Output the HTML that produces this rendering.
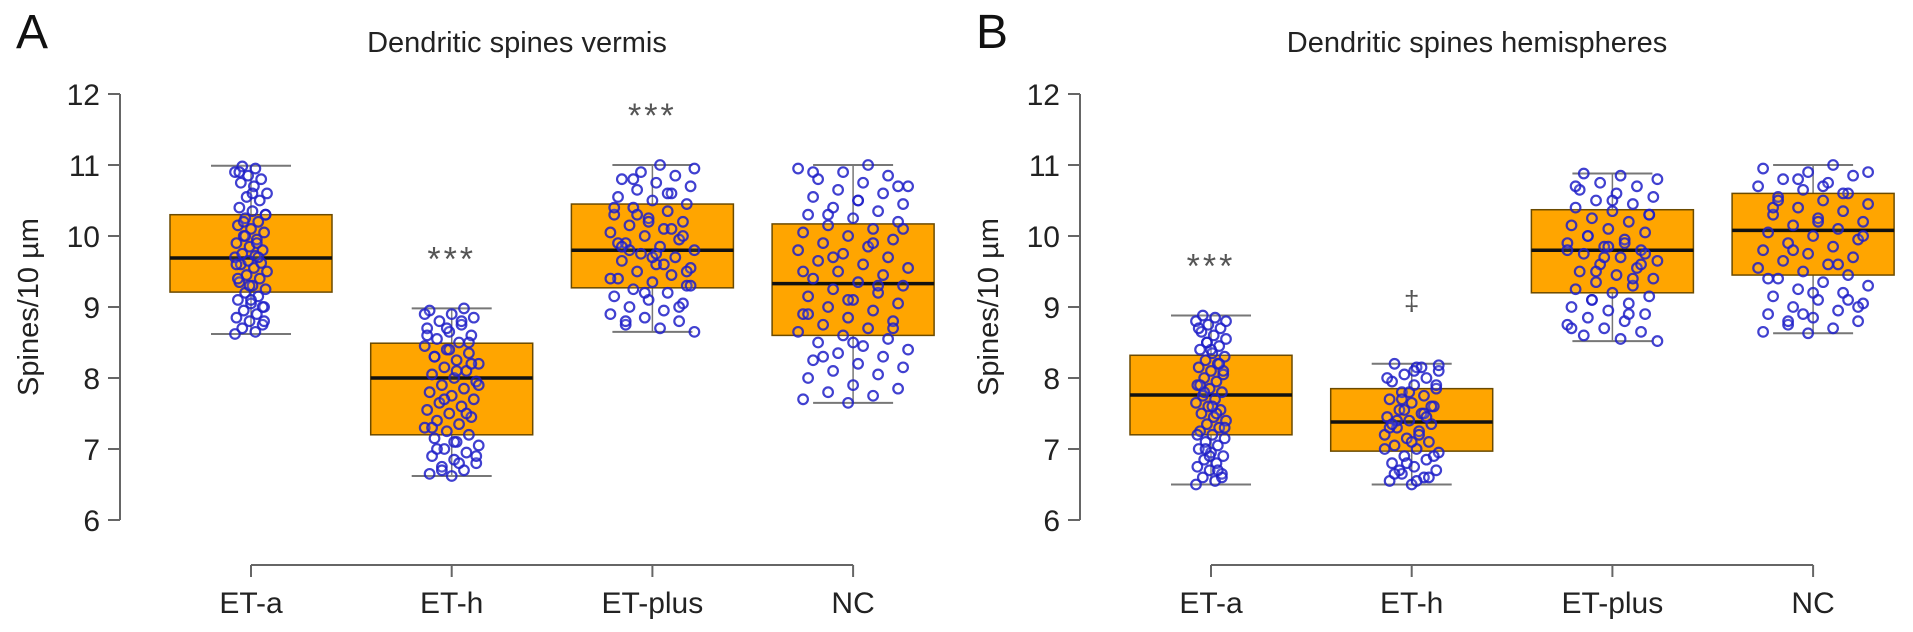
<!DOCTYPE html>
<html><head><meta charset="utf-8">
<style>
html,body{margin:0;padding:0;background:#fff;}
svg{display:block;font-family:"Liberation Sans",Arial,sans-serif;}
</style></head>
<body>
<svg id="chart" width="1913" height="632" viewBox="0 0 1913 632"></svg>
<script>
// ---- data ----
const categories = ["ET-a","ET-h","ET-plus","NC"];
const yTicks = [6,7,8,9,10,11,12];
const titleA = "Dendritic spines vermis";
const titleB = "Dendritic spines hemispheres";
// panel A box stats
const aLow = [8.62, 6.62, 8.65, 7.65];
const aQ1 = [9.21, 7.20, 9.27, 8.60];
const aMed = [9.69, 8.00, 9.80, 9.33];
const aQ3 = [10.30, 8.49, 10.45, 10.17];
const aHigh = [10.99, 8.98, 11.00, 11.00];
const aMarks = ["", "***", "***", ""];
// panel B box stats
const bLow = [6.50, 6.50, 8.52, 8.63];
const bQ1 = [7.20, 6.97, 9.20, 9.45];
const bMed = [7.76, 7.38, 9.80, 10.08];
const bQ3 = [8.32, 7.85, 10.37, 10.60];
const bHigh = [8.88, 8.20, 10.88, 11.00];
const bMarks = ["***", "‡", "", ""];
// jittered observations (estimated)
const aPtsETa = [8.62,8.65,8.7,8.75,8.8,8.85,8.9,8.95,9.0,9.05,9.1,9.15,9.2,9.25,9.3,9.35,9.4,9.45,9.5,9.55,9.6,9.62,9.65,9.7,9.72,9.75,9.8,9.85,9.9,9.95,10.0,10.05,10.1,10.15,10.2,10.25,10.3,10.35,10.4,10.5,10.55,10.6,10.7,10.75,10.8,10.85,10.9,10.95,10.98,9.0,9.3,9.6,9.9,10.2,8.8,9.1,9.4,9.7,10.0,10.3,10.6,10.9];
const aPtsETh = [6.62,6.65,6.7,6.75,6.8,6.85,6.9,6.95,7.0,7.05,7.1,7.15,7.2,7.25,7.3,7.35,7.4,7.45,7.5,7.55,7.6,7.65,7.7,7.75,7.8,7.85,7.9,7.95,8.0,8.05,8.1,8.15,8.2,8.25,8.3,8.35,8.4,8.45,8.5,8.55,8.6,8.65,8.7,8.75,8.8,8.85,8.9,8.95,8.98,6.7,6.9,7.1,7.3,7.5,7.7,7.9,8.1,8.3,8.5,8.7,8.9,6.8,7.0,8.2,8.4,8.6,8.8];
const aPtsETplus = [8.65,8.7,8.75,8.8,8.85,8.9,8.95,9.0,9.05,9.1,9.15,9.2,9.25,9.3,9.35,9.4,9.45,9.5,9.55,9.6,9.65,9.7,9.75,9.8,9.85,9.9,9.95,10.0,10.05,10.1,10.15,10.2,10.25,10.3,10.35,10.4,10.45,10.5,10.55,10.6,10.65,10.7,10.75,10.8,10.85,10.9,10.95,11.0,8.8,9.0,9.2,9.4,9.6,9.8,10.0,10.2,10.4,10.6,10.8,9.5,9.7,9.9,10.1,10.3,9.3,9.75,9.85];
const aPtsNC = [7.65,7.7,7.75,7.8,7.85,7.9,8.0,8.05,8.1,8.15,8.2,8.25,8.3,8.35,8.4,8.45,8.5,8.55,8.6,8.65,8.7,8.75,8.8,8.85,8.9,8.95,9.0,9.05,9.1,9.15,9.2,9.25,9.3,9.35,9.4,9.45,9.5,9.55,9.6,9.65,9.7,9.75,9.8,9.85,9.9,9.95,10.0,10.05,10.1,10.15,10.2,10.25,10.3,10.35,10.4,10.45,10.5,10.55,10.6,10.65,10.7,10.75,10.8,10.85,10.9,10.95,11.0,8.3,8.7,9.1,9.5,9.9,10.3,10.7,8.5,8.9,9.3,9.7,10.1,10.5,10.9];
const bPtsETa = [6.5,6.55,6.6,6.65,6.7,6.75,6.8,6.85,6.9,6.95,7.0,7.05,7.1,7.15,7.2,7.25,7.3,7.35,7.4,7.45,7.5,7.55,7.6,7.65,7.7,7.75,7.8,7.85,7.9,7.95,8.0,8.05,8.1,8.15,8.2,8.25,8.3,8.35,8.4,8.45,8.5,8.55,8.6,8.65,8.7,8.75,8.8,8.85,8.88,6.6,6.9,7.2,7.5,7.8,8.1,8.4,8.7,6.7,7.0,7.3,7.6,7.9,8.2,8.5,8.8];
const bPtsETh = [6.5,6.55,6.6,6.65,6.7,6.75,6.8,6.85,6.9,6.95,7.0,7.05,7.1,7.15,7.2,7.25,7.3,7.35,7.4,7.45,7.5,7.55,7.6,7.65,7.7,7.75,7.8,7.85,7.9,7.95,8.0,8.05,8.1,8.15,8.2,6.6,6.8,7.0,7.2,7.4,7.6,7.8,8.0,8.15,6.7,6.9,7.1,7.3,7.5,7.7,7.9,8.1,7.35,7.45,7.55,8.18,6.55,6.65];
const bPtsETplus = [8.52,8.55,8.6,8.65,8.7,8.75,8.8,8.85,8.9,8.95,9.0,9.05,9.1,9.15,9.2,9.25,9.3,9.35,9.4,9.45,9.5,9.55,9.6,9.65,9.7,9.75,9.8,9.85,9.9,9.95,10.0,10.05,10.1,10.15,10.2,10.25,10.3,10.35,10.4,10.45,10.5,10.55,10.6,10.65,10.7,10.75,10.8,10.85,10.88,9.6,9.7,9.8,9.9,10.0,9.75,9.85,8.7,8.9,9.1,10.3,10.5,10.7,9.4,9.5];
const bPtsNC = [8.63,8.65,8.7,8.75,8.8,8.85,8.9,8.95,9.0,9.05,9.1,9.15,9.2,9.25,9.3,9.35,9.4,9.45,9.5,9.55,9.6,9.65,9.7,9.75,9.8,9.85,9.9,9.95,10.0,10.05,10.1,10.15,10.2,10.25,10.3,10.35,10.4,10.45,10.5,10.55,10.6,10.65,10.7,10.75,10.8,10.85,10.9,10.95,11.0,8.8,9.0,9.2,9.4,9.6,9.8,10.0,10.2,10.4,10.6,10.8,10.9,10.7,10.5,9.1,8.9];
const aPoints = [aPtsETa, aPtsETh, aPtsETplus, aPtsNC];
const bPoints = [bPtsETa, bPtsETh, bPtsETplus, bPtsNC];

// ---- drawing ----
const NS = "http://www.w3.org/2000/svg";
const svg = document.getElementById("chart");
function mk(tag, attrs, parent, text){
  const e = document.createElementNS(NS, tag);
  for (const k in attrs) e.setAttribute(k, attrs[k]);
  if (text !== undefined) e.textContent = text;
  (parent || svg).appendChild(e);
  return e;
}
const jitterW = [16, 27, 42, 55];
const jitterWB = [15, 27, 45, 55];

function drawPanel(ox, letter, title, low, q1, med, q3, high, marks, points, jw, key){
  const g = mk("g", {});
  
  
  const yTop = 94, yBot = 520, axisX = ox + 120, x0 = ox + 251, step = 200.7, xAxisY = 565;
  const ys = v => yBot - (v - 6) * (yBot - yTop) / 6;
  const xs = i => x0 + i * step;

  const lt = mk("text", {x: ox + 16, y: 48, "font-size": 48, fill: "#111"}, g, letter);
  
  
  const tt = mk("text", {x: ox + 517, y: 52, "font-size": 29, fill: "#222", "text-anchor": "middle"}, g, title);
  
  

  const ya = mk("line", {x1: axisX, y1: ys(12), x2: axisX, y2: ys(6), stroke: "#666", "stroke-width": 2}, g);
  
  
  yTicks.forEach(t => {
    const tk = mk("line", {x1: axisX - 12, y1: ys(t), x2: axisX, y2: ys(t), stroke: "#666", "stroke-width": 2}, g);
    
    
    const tl = mk("text", {x: axisX - 20, y: ys(t) + 11, "font-size": 30, fill: "#222", "text-anchor": "end"}, g, String(t));
    
    
  });
  const yl = mk("text", {x: 0, y: 0, "font-size": 29, fill: "#222", "text-anchor": "middle", transform: `translate(${ox + 38},${(yTop + yBot) / 2}) rotate(-90)`}, g, "Spines/10 µm");
  
  

  const xa = mk("line", {x1: xs(0), y1: xAxisY, x2: xs(categories.length - 1), y2: xAxisY, stroke: "#666", "stroke-width": 2}, g);
  
  
  categories.forEach((c, i) => {
    const tk = mk("line", {x1: xs(i), y1: xAxisY, x2: xs(i), y2: xAxisY + 12, stroke: "#666", "stroke-width": 2}, g);
    
    
    const tl = mk("text", {x: xs(i), y: 613, "font-size": 30, fill: "#222", "text-anchor": "middle"}, g, c);
    
    
  });

  categories.forEach((c, i) => {
    const cx = xs(i), hw = 81;
    const bg = mk("g", {}, g);
    
    
    mk("line", {x1: cx, y1: ys(high[i]), x2: cx, y2: ys(low[i]), stroke: "#777", "stroke-width": 1.5}, bg);
    mk("line", {x1: cx - 40, y1: ys(high[i]), x2: cx + 40, y2: ys(high[i]), stroke: "#777", "stroke-width": 2}, bg);
    mk("line", {x1: cx - 40, y1: ys(low[i]), x2: cx + 40, y2: ys(low[i]), stroke: "#777", "stroke-width": 2}, bg);
    mk("rect", {x: cx - hw, y: ys(q3[i]), width: 2 * hw, height: ys(q1[i]) - ys(q3[i]), fill: "#FFA500", stroke: "#6b4a00", "stroke-width": 1.5}, bg);
    mk("line", {x1: cx - hw, y1: ys(med[i]), x2: cx + hw, y2: ys(med[i]), stroke: "#111", "stroke-width": 3.5}, bg);
    const pg = mk("g", {}, g);
    
    
    points[i].forEach((v, k) => {
      const j = (((k * 37 + i * 11) % 23) / 11 - 1) * jw[i];
      mk("circle", {cx: cx + j, cy: ys(v), r: 4.8, fill: "rgba(255,255,255,0.1)", stroke: "#1f1fc8", "stroke-width": 2.2, "stroke-opacity": 0.85}, pg);
    });
    if (marks[i]) {
      const sy = marks[i] === "‡" ? ys(high[i]) - 54 : ys(high[i]) - 38;
      const mt = mk("text", {x: cx, y: sy, "font-size": marks[i] === "‡" ? 28 : 34, fill: "#555", "text-anchor": "middle", "letter-spacing": marks[i] === "‡" ? 0 : 3}, g, marks[i]);
      
      
    }
  });
}
drawPanel(0, "A", titleA, aLow, aQ1, aMed, aQ3, aHigh, aMarks, aPoints, jitterW, "a");
drawPanel(960, "B", titleB, bLow, bQ1, bMed, bQ3, bHigh, bMarks, bPoints, jitterWB, "b");
</script>
</body></html>
